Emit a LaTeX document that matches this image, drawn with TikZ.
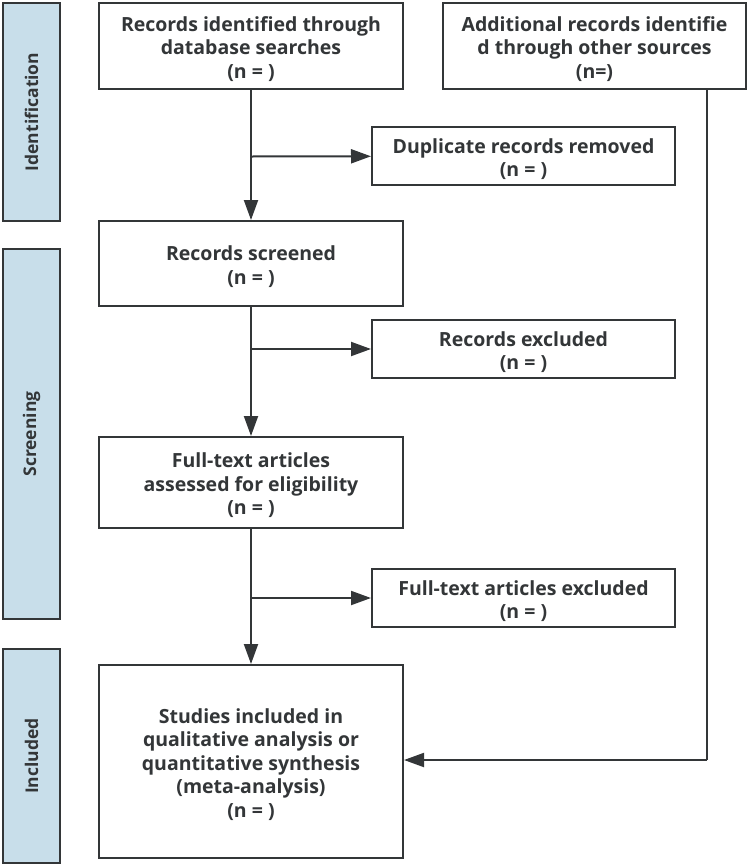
\documentclass[tikz,border=0pt]{standalone}
\usepackage{fontspec}
\setmainfont{Open Sans}
\usetikzlibrary{arrows.meta,positioning}
\definecolor{linec}{HTML}{333638}
\definecolor{bandfill}{HTML}{C8DEEA}
\newcommand\topstrut{\rule{0pt}{21pt}}
\tikzset{
  box/.style={draw=linec, line width=2pt, fill=white, align=center, font=\bfseries\fontsize{19.5}{23.5}\selectfont, text=linec, inner sep=0pt},
  band/.style={draw=linec, line width=2pt, fill=bandfill, inner sep=0pt},
  bandtext/.style={rotate=90, font=\bfseries\fontsize{17.5}{20}\selectfont, text=linec},
  conn/.style={draw=linec, line width=2pt},
  arr/.style={conn, -{Triangle[length=20pt,width=14pt]}}
}
\begin{document}
\begin{tikzpicture}[x=1pt,y=-1pt]
\useasboundingbox (0,0) rectangle (749,865);
% bands
\node[band, minimum width=57pt, minimum height=218pt] (b1) at (31.5,112) {};
\node[bandtext] (t1) at (b1) {Identification};
\node[band, minimum width=57pt, minimum height=370pt] (b2) at (31.5,434) {};
\node[bandtext] (t2) at (b2) {Screening};
\node[band, minimum width=57pt, minimum height=214pt] (b3) at (31.5,756) {};
\node[bandtext] (t3) at (b3) {Included};
% boxes
\node[box, minimum width=304pt, minimum height=86pt] (rid) at (251,46) {\topstrut Records identified through\\database searches\\(n = )};
\node[box, minimum width=303pt, minimum height=86pt] (add) at (594.5,46) {\topstrut Additional records identifie\\d through other sources\\(n=)};
\node[box, minimum width=303pt, minimum height=58pt] (dup) at (523.5,156) {\topstrut Duplicate records removed\\(n = )};
\node[box, minimum width=304pt, minimum height=85pt] (scr) at (251,263.5) {\topstrut Records screened\\(n = )};
\node[box, minimum width=303pt, minimum height=58pt] (exc) at (523.5,349) {\topstrut Records excluded\\(n = )};
\node[box, minimum width=304pt, minimum height=91pt] (ful) at (251,482.5) {\topstrut Full-text articles\\assessed for eligibility\\(n = )};
\node[box, minimum width=303pt, minimum height=58pt] (fex) at (523.5,598) {\topstrut Full-text articles excluded\\(n = )};
\node[box, minimum width=304pt, minimum height=193pt] (inc) at (251,761.5) {\topstrut Studies included in\\qualitative analysis or\\quantitative synthesis\\(meta-analysis)\\(n = )};
% connectors
\draw[arr] (rid) -- (scr);
\draw[arr] (scr) -- (ful);
\draw[arr] (ful) -- (inc);
\coordinate (j1) at (251,156.5);
\coordinate (j2) at (251,349);
\coordinate (j3) at (251,598);
\draw[arr] (j1) -- (dup);
\draw[arr] (j2) -- (exc);
\draw[arr] (j3) -- (fex);
\coordinate (r1) at (707,89);
\coordinate (r2) at (707,760);
\draw[conn] (r1) -- (r2);
\draw[arr] (r2) -- (inc.east |- r2);
\end{tikzpicture}
\end{document}
